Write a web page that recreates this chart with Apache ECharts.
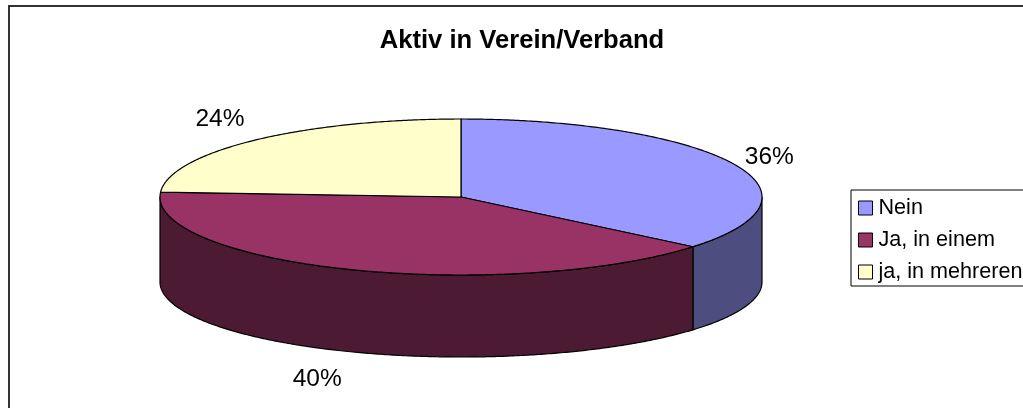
<!DOCTYPE html>
<html>
<head>
<meta charset="utf-8">
<style>html,body{margin:0;padding:0;background:#fff;overflow:hidden}#c{width:1023px;height:408px}</style>
<script src="https://cdn.jsdelivr.net/npm/echarts@6/dist/echarts.min.js"></script>
</head>
<body>
<div id="c"></div>
<script>
const titleText = 'Aktiv in Verein/Verband';
const categories = ['Nein', 'Ja, in einem', 'ja, in mehreren'];
const shares = [36, 40, 24];
const topColors = ['#9999FF', '#993366', '#FFFFCC'];
const sideColors = ['#4D4D80', '#4D1A33', '#808066'];

const FONT = '"Liberation Sans", Arial, sans-serif';
const CX = 461, CY = 197, RX = 301, RY = 78;
const BASE_CY = 282, BASE_RY = 75;
const labelOffsets = [[36, -7], [-33, 28], [-35, -21]];

const total = shares.reduce((a, b) => a + b, 0);
const rim = (deg, base) => {
  const t = deg * Math.PI / 180;
  return [CX + RX * Math.sin(t), (base ? BASE_CY : CY) - (base ? BASE_RY : RY) * Math.cos(t)];
};
const arc = (from, to, base) => {
  const pts = [];
  const n = Math.max(2, Math.ceil(Math.abs(to - from) * 2));
  for (let k = 0; k <= n; k++) pts.push(rim(from + (to - from) * k / n, base));
  return pts;
};

function renderSlice(params, api) {
  const i = params.seriesIndex;
  const start = api.value(0), value = api.value(1);
  const a0 = start / total * 360, a1 = (start + value) / total * 360;
  const children = [];
  const w0 = Math.max(a0, 90), w1 = Math.min(a1, 270);
  if (w1 > w0) {
    children.push({
      type: 'polygon',
      shape: { points: arc(w0, w1, false).concat(arc(w1, w0, true)) },
      style: { fill: sideColors[i], stroke: '#000', lineWidth: 1.2, lineJoin: 'round' }
    });
  }
  children.push({
    type: 'polygon',
    shape: { points: [[CX, CY]].concat(arc(a0, a1, false)) },
    style: { fill: topColors[i], stroke: '#000', lineWidth: 1.2, lineJoin: 'round' }
  });
  const mid = (a0 + a1) / 2;
  const p = rim(mid, mid > 90 && mid < 270);
  children.push({
    type: 'text',
    style: {
      text: Math.round(value / total * 100) + '%',
      x: p[0] + labelOffsets[i][0], y: p[1] + labelOffsets[i][1],
      align: 'center', verticalAlign: 'middle',
      fontFamily: FONT, fontSize: 24.5, fill: '#000'
    }
  });
  return { type: 'group', children };
}

let running = 0;
const series = categories.map((name, i) => {
  const start = running;
  running += shares[i];
  return {
    type: 'custom', name, coordinateSystem: 'none', silent: true,
    renderItem: renderSlice,
    itemStyle: { color: topColors[i] },
    data: [[start, shares[i]]]
  };
});

const chart = echarts.init(document.getElementById('c'), null, { renderer: 'canvas' });
chart.setOption({
  animation: false,
  backgroundColor: '#fff',
  title: {
    text: titleText, left: 517, top: 23, textAlign: 'center',
    textStyle: { fontFamily: FONT, fontSize: 25.6, fontWeight: 'bold', color: '#000' }
  },
  legend: {
    orient: 'vertical', left: 851, top: 190,
    data: categories,
    icon: 'rect', itemWidth: 14, itemHeight: 14, itemGap: 10,
    padding: [7, 6, 3, 7],
    borderColor: '#000', borderWidth: 1, backgroundColor: '#fff',
    itemStyle: { borderColor: '#000', borderWidth: 1 },
    textStyle: { fontFamily: FONT, fontSize: 21.6, color: '#000', padding: [0, 0, 0, 1] },
    selectedMode: false
  },
  graphic: [{
    type: 'rect', z: -1, silent: true,
    shape: { x: 9, y: 6, width: 1100, height: 500 },
    style: { fill: 'none', stroke: '#333', lineWidth: 2 }
  }],
  series
});
</script>
</body>
</html>
